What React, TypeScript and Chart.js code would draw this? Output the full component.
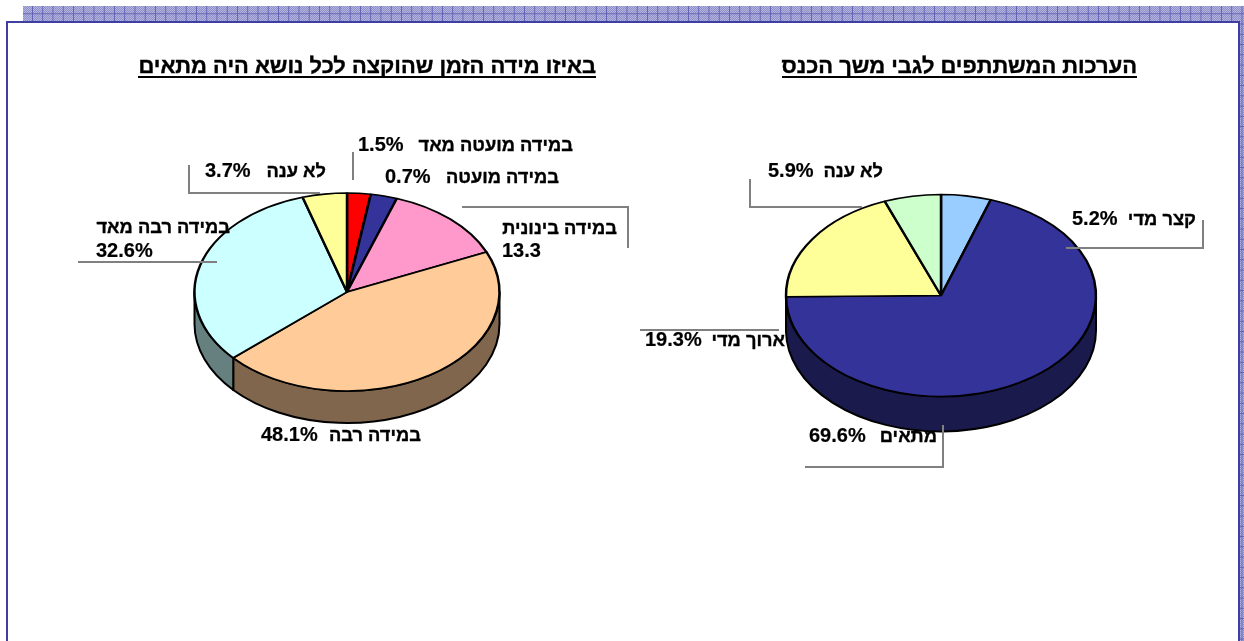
import React, { useEffect, useRef } from "react";
import { Chart, registerables } from "chart.js";

Chart.register(...registerables);

const leftTitle = "באיזו מידה הזמן שהוקצה לכל נושא היה מתאים";
const rightTitle = "הערכות המשתתפים לגבי משך הכנס";

// Slice sizes as drawn in the picture
const leftValues = [2.5, 2.8, 13.1, 45, 31.9, 4.7];
const rightValues = [5.2, 69.6, 19.3, 5.9];

const leftCategories = ["במידה מועטה מאד", "במידה מועטה", "במידה בינונית", "במידה רבה", "במידה רבה מאד", "לא ענה"];
const rightCategories = ["קצר מדי", "מתאים", "ארוך מדי", "לא ענה"];

const leftShown = ["1.5%", "0.7%", "13.3", "48.1%", "32.6%", "3.7%"];
const rightShown = ["5.2%", "69.6%", "19.3%", "5.9%"];

const leftColors = ["#FF0000", "#333399", "#FF99CC", "#FFCC99", "#CCFFFF", "#FFFF99"];
const leftSideColors = ["#800000", "#1A1A4D", "#804D66", "#80664D", "#668080", "#80804D"];
const rightColors = ["#99CCFF", "#333399", "#FFFF99", "#CCFFCC"];
const rightSideColors = ["#4D6680", "#1A1A4D", "#80804D", "#668066"];

// label placement, in slice order: [name right edge, name baseline, value left edge, value baseline]
type Place = number[];
type Line = number[];
const leftPlaces: Place[] = [
  [573, 151, 358, 151],
  [559, 183, 385, 183],
  [617, 234, 502, 257],
  [421, 441, 261, 441],
  [230, 233, 96, 257],
  [326, 177, 205, 177],
];
const rightPlaces: Place[] = [
  [1196, 225, 1072, 225],
  [937, 442, 809, 442],
  [785, 346, 645, 346],
  [883, 177, 768, 177],
];
const leftLeaders: Line[] = [
  [353, 152, 353, 180],
  [189, 165, 189, 193, 320, 193],
  [78, 262, 217, 262],
  [462, 207, 628, 207, 628, 248],
];
const rightLeaders: Line[] = [
  [1066, 248, 1203, 248, 1203, 220],
  [750, 179, 750, 207, 862, 207],
  [640, 330, 779, 330],
  [943, 425, 943, 467, 805, 467],
];

const FONT = '"Liberation Sans", Arial, sans-serif';
const CW = 1244;
const CH = 641;

type PieCfg = {
  labels: string[];
  shown: string[];
  values: number[];
  colors: string[];
  sideColors: string[];
  cx: number;
  cy: number;
  rx: number;
  ry: number;
  depth: number;
  title: string;
  titleRight: number;
  titleY: number;
  titleLeft: number;
  places: Place[];
  leaders: Line[];
};

function heavyText(ctx: CanvasRenderingContext2D, t: string, x: number, y: number, w: number) {
  ctx.fillText(t, x, y);
  ctx.lineWidth = w;
  ctx.strokeStyle = "#000";
  ctx.strokeText(t, x, y);
}

function makePlugin(c: PieCfg) {
  const k = c.ry / c.rx;
  return {
    id: "tiltedPie",
    beforeDatasetsDraw(chart: any) {
      const ctx: CanvasRenderingContext2D = chart.ctx;
      const arcs = chart.getDatasetMeta(0).data;
      const p = arcs[0].getProps(["x", "y"], true);
      const ox = p.x;
      const oy = p.y;
      // rim of the disc, following the arc elements' own angles
      ctx.save();
      ctx.translate(c.cx, c.cy);
      ctx.lineWidth = 2;
      ctx.strokeStyle = "#000";
      ctx.lineJoin = "round";
      arcs.forEach((arc: any, i: number) => {
        const { startAngle, endAngle } = arc.getProps(["startAngle", "endAngle"], true);
        [0, 2 * Math.PI].forEach((shift) => {
          const a = Math.max(startAngle, shift);
          const b = Math.min(endAngle, shift + Math.PI);
          if (b <= a) return;
          ctx.beginPath();
          ctx.ellipse(0, 0, c.rx, c.ry, 0, a, b);
          ctx.ellipse(0, c.depth, c.rx, c.ry, 0, b, a, true);
          ctx.closePath();
          ctx.fillStyle = c.sideColors[i];
          ctx.fill();
          ctx.stroke();
        });
      });
      ctx.restore();
      // flatten the top face
      ctx.save();
      ctx.translate(c.cx, c.cy);
      ctx.scale(1, k);
      ctx.translate(-ox, -oy);
    },
    afterDatasetsDraw(chart: any) {
      chart.ctx.restore();
    },
    afterDraw(chart: any) {
      const ctx: CanvasRenderingContext2D = chart.ctx;
      ctx.save();
      ctx.strokeStyle = "#808080";
      ctx.lineWidth = 2;
      c.leaders.forEach((l) => {
        ctx.beginPath();
        ctx.moveTo(l[0], l[1]);
        for (let i = 2; i < l.length; i += 2) ctx.lineTo(l[i], l[i + 1]);
        ctx.stroke();
      });
      ctx.fillStyle = "#000";
      c.places.forEach((pl, i) => {
        (ctx as any).direction = "rtl";
        ctx.textAlign = "right";
        ctx.font = `bold 18.3px ${FONT}`;
        heavyText(ctx, c.labels[i], pl[0], pl[1], 0.35);
        (ctx as any).direction = "ltr";
        ctx.textAlign = "left";
        ctx.font = `bold 20px ${FONT}`;
        heavyText(ctx, c.shown[i], pl[2], pl[3], 0.2);
      });
      (ctx as any).direction = "rtl";
      ctx.textAlign = "right";
      ctx.font = `bold 21.9px ${FONT}`;
      heavyText(ctx, c.title, c.titleRight, c.titleY, 0.4);
      ctx.fillRect(c.titleLeft, c.titleY + 3, c.titleRight - c.titleLeft, 2);
      ctx.restore();
    },
  };
}

const leftCfg: PieCfg = {
  labels: leftCategories,
  shown: leftShown,
  values: leftValues,
  colors: leftColors,
  sideColors: leftSideColors,
  cx: 347,
  cy: 292,
  rx: 152.5,
  ry: 99,
  depth: 32,
  title: leftTitle,
  titleRight: 596,
  titleLeft: 138,
  titleY: 73,
  places: leftPlaces,
  leaders: leftLeaders,
};
const rightCfg: PieCfg = {
  labels: rightCategories,
  shown: rightShown,
  values: rightValues,
  colors: rightColors,
  sideColors: rightSideColors,
  cx: 941,
  cy: 295.5,
  rx: 155,
  ry: 101,
  depth: 35,
  title: rightTitle,
  titleRight: 1137,
  titleLeft: 782,
  titleY: 73,
  places: rightPlaces,
  leaders: rightLeaders,
};

function Pie({ cfg }: { cfg: PieCfg }) {
  const ref = useRef<HTMLCanvasElement | null>(null);
  useEffect(() => {
    const chart = new Chart(ref.current as HTMLCanvasElement, {
      type: "pie",
      data: {
        labels: cfg.labels,
        datasets: [
          {
            data: cfg.values,
            backgroundColor: cfg.colors,
            borderColor: "#000",
            borderWidth: 2.5,
            clip: false,
          } as any,
        ],
      },
      options: {
        responsive: false,
        animation: false,
        radius: cfg.rx,
        plugins: { legend: { display: false }, tooltip: { enabled: false }, title: { display: false } },
      } as any,
      plugins: [makePlugin(cfg)],
    });
    return () => chart.destroy();
  }, [cfg]);
  return (
    <canvas
      ref={ref}
      width={CW}
      height={CH}
      style={{ position: "absolute", left: 0, top: 0, width: CW, height: CH }}
    />
  );
}

const strip = {
  backgroundImage:
    "linear-gradient(90deg, #6363B5 1px, transparent 1px), linear-gradient(0deg, #6363B5 1px, transparent 1px), repeating-conic-gradient(#B3B3E0 0 25%, #9090C8 0 50%)",
  backgroundSize: "10.25px 10.25px, 10.25px 10.25px, 2px 2px",
  backgroundPosition: "9px 8px, 0 -2px, 0 0",
};

export default function App() {
  return (
    <div style={{ position: "fixed", left: 0, top: 0, width: CW, height: CH, overflow: "hidden", background: "#fff" }}>
      <div style={{ position: "absolute", left: 23, top: 6, width: 1221, height: 635, ...strip }} />
      <div style={{ position: "absolute", left: 6, top: 21, width: 1232, height: 620, background: "#fff" }} />
      <div style={{ position: "absolute", left: 6, top: 21, width: 1234, height: 2, background: "#3F3FA3" }} />
      <div style={{ position: "absolute", left: 6, top: 21, width: 2, height: 620, background: "#3F3FA3" }} />
      <div style={{ position: "absolute", left: 1238, top: 21, width: 2, height: 620, background: "#3F3FA3" }} />
      <Pie cfg={leftCfg} />
      <Pie cfg={rightCfg} />
    </div>
  );
}
